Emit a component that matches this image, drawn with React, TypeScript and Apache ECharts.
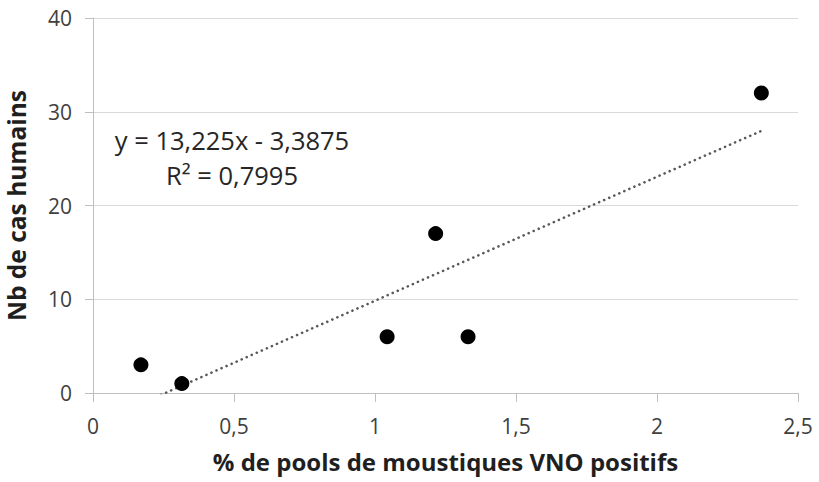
import React, { useEffect, useRef } from "react";
import * as echarts from "echarts";

// % of positive WNV mosquito pools vs. number of human cases
const poolPercent = [0.17, 0.315, 1.043, 1.215, 1.33, 2.37];
const humanCases = [3, 1, 6, 17, 6, 32];

// Linear trendline as reported on the chart
const TREND_SLOPE = 13.225;
const TREND_INTERCEPT = -3.3875;
const TREND_R2 = 0.7995;

const xTicks = [0, 0.5, 1, 1.5, 2, 2.5];
const yTicks = [0, 10, 20, 30, 40];

const FONT = "'Open Sans', 'Noto Sans', sans-serif";
const fr = (v: number) => String(v).replace(".", ",");

export default function App() {
  const ref = useRef<HTMLDivElement>(null);

  useEffect(() => {
    if (!ref.current) return;
    const chart = echarts.init(ref.current, undefined, { renderer: "svg" });

    const xMin = Math.min(...poolPercent);
    const xMax = Math.max(...poolPercent);
    const trend = [xMin, xMax].map((x) => [x, TREND_SLOPE * x + TREND_INTERCEPT]);
    const sign = TREND_INTERCEPT < 0 ? "-" : "+";
    const eqText =
      `y = ${fr(TREND_SLOPE)}x ${sign} ${fr(Math.abs(TREND_INTERCEPT))}\n` +
      `R² = ${fr(TREND_R2)}`;

    chart.setOption({
      animation: false,
      backgroundColor: "#ffffff",
      textStyle: { fontFamily: FONT },
      grid: {
        left: 93,
        right: 21,
        top: 18,
        bottom: 89,
        containLabel: false,
        outerBoundsMode: "none",
      },
      xAxis: {
        type: "value",
        min: xTicks[0],
        max: xTicks[xTicks.length - 1],
        interval: 0.5,
        name: "% de pools de moustiques VNO positifs",
        nameLocation: "middle",
        nameGap: 56,
        nameTextStyle: { fontSize: 24, fontWeight: "bold", color: "#1f1f1f", fontFamily: FONT },
        axisLine: { show: true, lineStyle: { color: "#bfbfbf", width: 1 } },
        axisTick: { show: true, length: 9, lineStyle: { color: "#bfbfbf" } },
        axisLabel: { fontSize: 21, color: "#404040", margin: 22, formatter: (v: number) => fr(v), fontFamily: FONT },
        splitLine: { show: false },
      },
      yAxis: {
        type: "value",
        min: yTicks[0],
        max: yTicks[yTicks.length - 1],
        interval: 10,
        name: "Nb de cas humains",
        nameLocation: "middle",
        nameRotate: 90,
        nameGap: 64,
        nameTextStyle: {
          fontSize: 24.5,
          lineHeight: 25,
          fontWeight: "bold",
          color: "#1f1f1f",
          fontFamily: FONT,
        },
        axisLine: { show: true, lineStyle: { color: "#bfbfbf", width: 1 } },
        axisTick: { show: true, length: 8, lineStyle: { color: "#bfbfbf" } },
        axisLabel: { fontSize: 21, color: "#404040", margin: 21, fontFamily: FONT },
        splitLine: { show: true, lineStyle: { color: "#d9d9d9", width: 1 } },
      },
      series: [
        {
          type: "line",
          data: trend,
          symbol: "none",
          clip: true,
          lineStyle: { color: "#595959", width: 2.6, type: [0.1, 5.4], cap: "round" },
          z: 2,
        },
        {
          type: "scatter",
          data: poolPercent.map((x, i) => [x, humanCases[i]]),
          symbol: "circle",
          symbolSize: 15,
          itemStyle: { color: "#000000", opacity: 1 },
          z: 3,
        },
      ],
      graphic: [
        {
          type: "text",
          x: 232,
          y: 157,
          style: {
            text: eqText,
            fontFamily: FONT,
            fontSize: 25.5,
            lineHeight: 35,
            fill: "#262626",
            align: "center",
            verticalAlign: "middle",
          },
        },
      ],
    });

    return () => chart.dispose();
  }, []);

  return (
    <div
      ref={ref}
      style={{ position: "fixed", left: 0, top: 0, width: 819, height: 482 }}
    />
  );
}
